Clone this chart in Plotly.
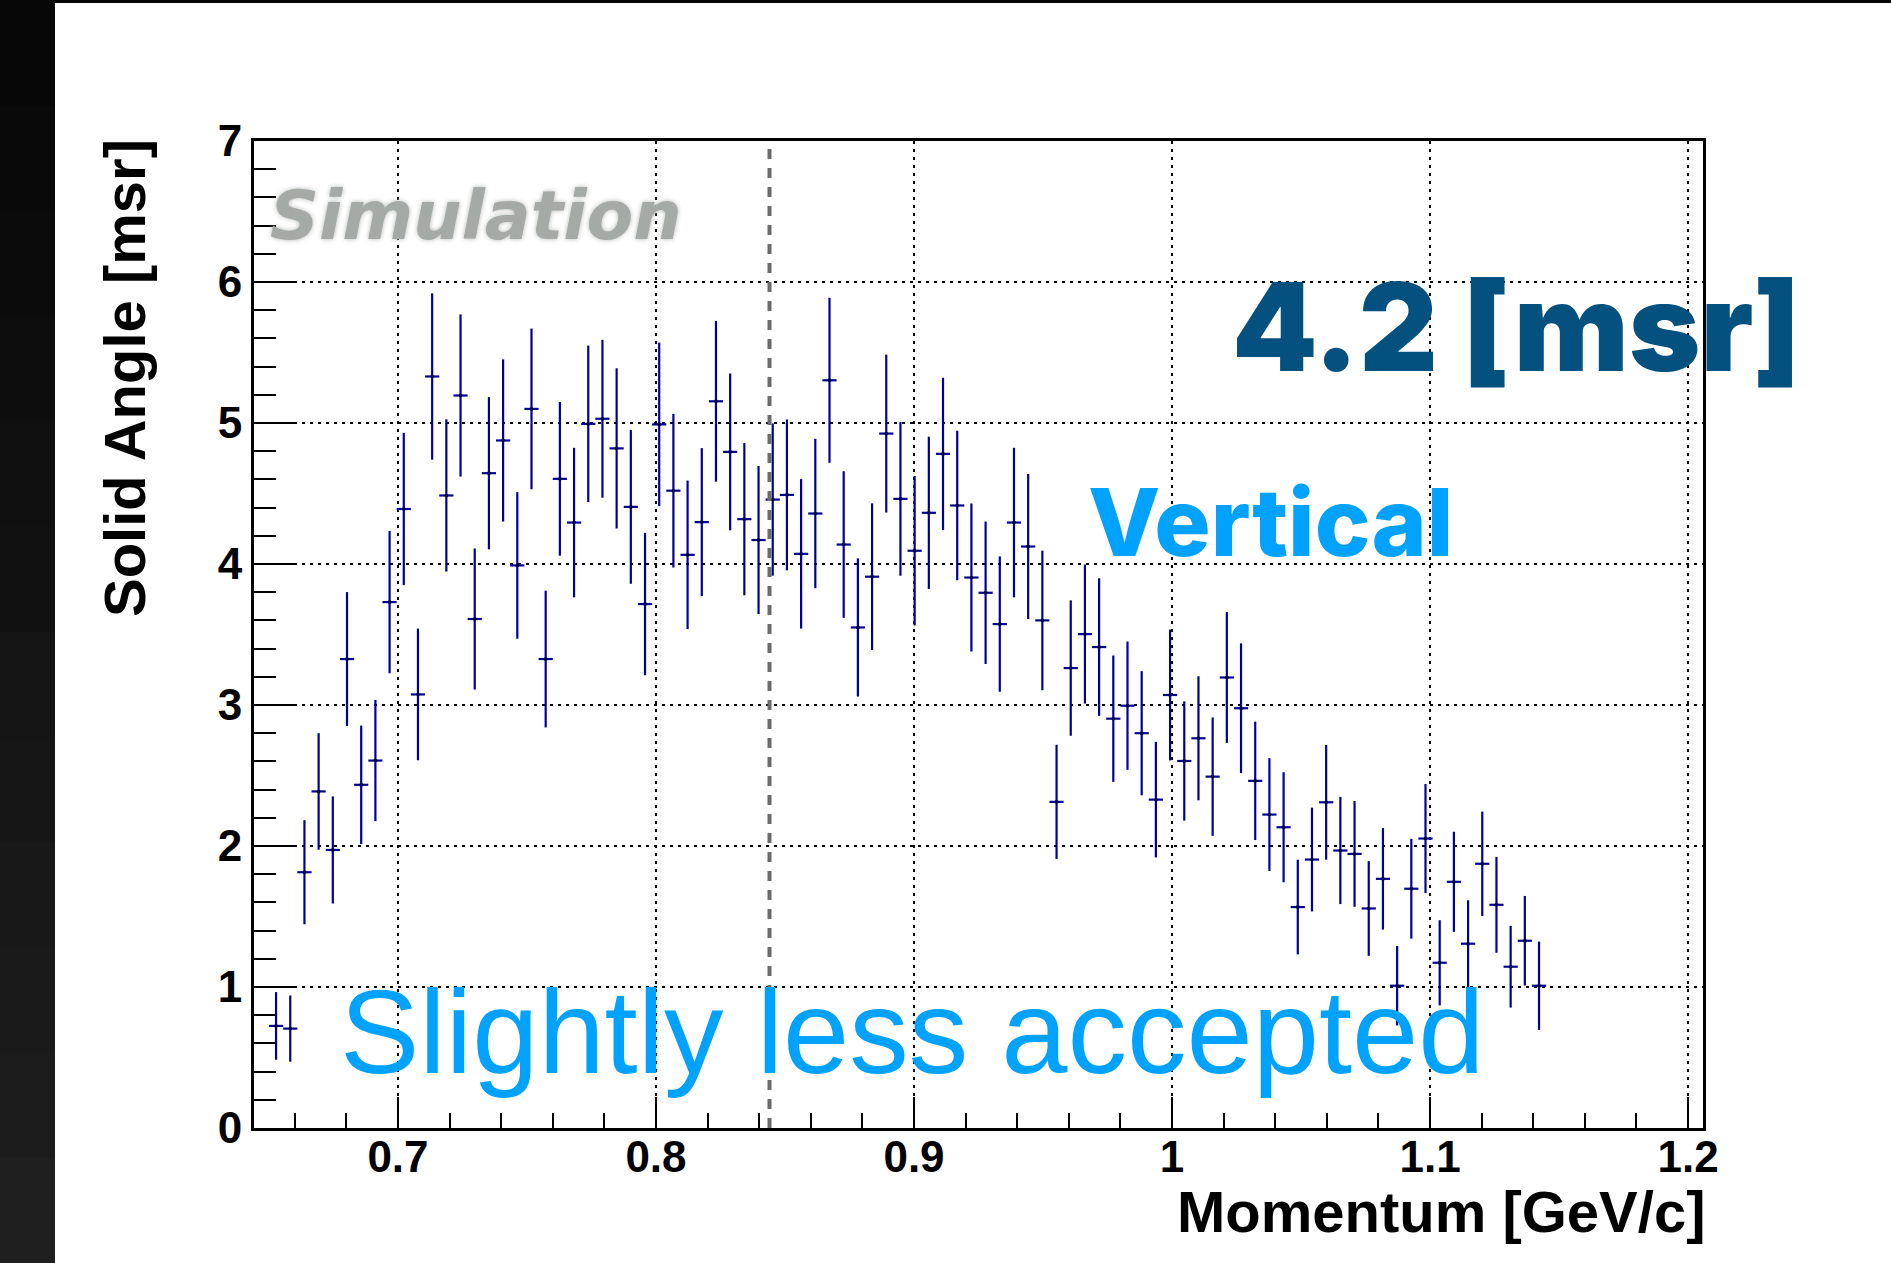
import plotly.graph_objects as go

# ---------------- data ----------------
momentum = [0.65275, 0.65825, 0.66375, 0.66925, 0.67475, 0.68025, 0.68575, 0.69125, 0.69675, 0.70225,
            0.70775, 0.71325, 0.71875, 0.72425, 0.72975, 0.73525, 0.74075, 0.74625, 0.75175, 0.75725,
            0.76275, 0.76825, 0.77375, 0.77925, 0.78475, 0.79025, 0.79575, 0.80125, 0.80675, 0.81225,
            0.81775, 0.82325, 0.82875, 0.83425, 0.83975, 0.84525, 0.85075, 0.85625, 0.86175, 0.86725,
            0.87275, 0.87825, 0.88375, 0.88925, 0.89475, 0.90025, 0.90575, 0.91125, 0.91675, 0.92225,
            0.92775, 0.93325, 0.93875, 0.94425, 0.94975, 0.95525, 0.96075, 0.96625, 0.97175, 0.97725,
            0.98275, 0.98825, 0.99375, 0.99925, 1.00475, 1.01025, 1.01575, 1.02125, 1.02675, 1.03225,
            1.03775, 1.04325, 1.04875, 1.05425, 1.05975, 1.06525, 1.07075, 1.07625, 1.08175, 1.08725,
            1.09275, 1.09825, 1.10375, 1.10925, 1.11475, 1.12025, 1.12575, 1.13125, 1.13675, 1.14225]

solid_angle = [0.724, 0.705, 1.814, 2.387, 1.972, 3.326, 2.434, 2.606, 3.73, 4.39,
               3.075, 5.33, 4.486, 5.195, 3.61, 4.644, 4.876, 3.99, 5.10, 3.326,
               4.604, 4.294, 4.994, 5.03, 4.82, 4.405, 3.716, 4.99, 4.52, 4.065,
               4.297, 5.154, 4.795, 4.318, 4.17, 4.457, 4.49, 4.072, 4.358, 5.303,
               4.138, 3.55, 3.91, 4.925, 4.462, 4.094, 4.363, 4.781, 4.415, 3.904,
               3.796, 3.574, 4.294, 4.124, 3.60, 2.313, 3.262, 3.503, 3.411, 2.903,
               2.995, 2.80, 2.329, 3.071, 2.603, 2.764, 2.492, 3.195, 2.977, 2.462,
               2.223, 2.133, 1.567, 1.904, 2.31, 1.968, 1.944, 1.557, 1.767, 1.009,
               1.697, 2.053, 1.172, 1.746, 1.307, 1.874, 1.583, 1.144, 1.328, 1.009]

solid_angle_err = [0.24, 0.235, 0.369, 0.413, 0.38, 0.475, 0.42, 0.43, 0.505, 0.54,
                   0.467, 0.59, 0.54, 0.575, 0.50, 0.54, 0.575, 0.52, 0.57, 0.485,
                   0.545, 0.53, 0.555, 0.56, 0.568, 0.545, 0.505, 0.58, 0.545, 0.527,
                   0.525, 0.57, 0.556, 0.54, 0.525, 0.54, 0.535, 0.53, 0.53, 0.585,
                   0.52, 0.49, 0.52, 0.56, 0.545, 0.53, 0.54, 0.54, 0.53, 0.525,
                   0.505, 0.48, 0.53, 0.515, 0.495, 0.405, 0.48, 0.493, 0.488, 0.448,
                   0.455, 0.44, 0.41, 0.464, 0.423, 0.44, 0.42, 0.464, 0.46, 0.42,
                   0.40, 0.39, 0.336, 0.368, 0.407, 0.38, 0.375, 0.336, 0.36, 0.282,
                   0.354, 0.387, 0.302, 0.355, 0.308, 0.37, 0.34, 0.29, 0.318, 0.313]

half_bin_width = [0.00275] * len(momentum)

x_tick_vals = [0.7, 0.8, 0.9, 1.0, 1.1, 1.2]
x_tick_text = ["0.7", "0.8", "0.9", "1", "1.1", "1.2"]
y_tick_vals = [0, 1, 2, 3, 4, 5, 6, 7]
y_tick_text = ["0", "1", "2", "3", "4", "5", "6", "7"]

cut_momentum = 0.844

# ---------------- layout geometry ----------------
W, H = 1891, 1263
L, R, T, B = 254, 1703, 141, 1128  # plot area in pixels
pw, ph = R - L, B - T


def px_x(px):
    return (px - L) / pw


def px_y(py):
    return (B - py) / ph


DATA_COLOR = "#000099"

fig = go.Figure()
fig.add_trace(go.Scatter(
    x=momentum, y=solid_angle,
    mode="markers",
    marker=dict(size=3, color="#000033", symbol="square"),
    error_y=dict(type="data", array=solid_angle_err, visible=True,
                 color=DATA_COLOR, thickness=2.2, width=0),
    error_x=dict(type="data", array=half_bin_width, visible=True,
                 color=DATA_COLOR, thickness=2.2, width=0),
    showlegend=False, cliponaxis=True,
))

tick_font = dict(family="Liberation Sans", size=44, color="black", weight="bold")

fig.update_layout(
    width=W, height=H,
    margin=dict(l=L, r=W - R, t=T, b=H - B, pad=0),
    paper_bgcolor="white", plot_bgcolor="white",
    xaxis=dict(
        range=[0.6442, 1.2058], tickmode="array", tickvals=x_tick_vals, ticktext=x_tick_text,
        ticks="inside", ticklen=31, tickwidth=2, tickcolor="black",
        minor=dict(dtick=0.02, tick0=0.7, ticks="inside", ticklen=15, tickwidth=2, tickcolor="black",
                   showgrid=False),
        showline=True, linecolor="black", linewidth=3, mirror=True,
        showgrid=True, gridcolor="black", gridwidth=2, griddash="3px,5px",
        zeroline=False, tickfont=tick_font, ticklabelstandoff=-12,
    ),
    yaxis=dict(
        range=[0, 7], tickmode="array", tickvals=y_tick_vals, ticktext=y_tick_text,
        ticks="inside", ticklen=43, tickwidth=2, tickcolor="black",
        minor=dict(dtick=0.2, tick0=0, ticks="inside", ticklen=22, tickwidth=2, tickcolor="black",
                   showgrid=False),
        showline=True, linecolor="black", linewidth=3, mirror=True,
        showgrid=True, gridcolor="black", gridwidth=2, griddash="3px,5px",
        zeroline=False, tickfont=tick_font, ticklabelstandoff=0,
    ),
)

shapes = []
# dark strip on the left (slight vertical gradient) and thin top strip
n_bands = 12
for i in range(n_bands):
    g = int(7 + (31 - 7) * i / (n_bands - 1))
    col = f"rgb({g},{g},{g})"
    y0 = i * H / n_bands
    y1 = (i + 1) * H / n_bands
    shapes.append(dict(type="rect", xref="paper", yref="paper",
                       x0=px_x(0), x1=px_x(55), y0=px_y(y1 + 1), y1=px_y(y0),
                       fillcolor=col, line=dict(width=0), layer="above"))
shapes.append(dict(type="rect", xref="paper", yref="paper",
                   x0=px_x(0), x1=px_x(W), y0=px_y(3), y1=px_y(0),
                   fillcolor="rgb(7,7,7)", line=dict(width=0), layer="above"))
# dashed cut line
shapes.append(dict(type="line", xref="x", yref="y", x0=cut_momentum, x1=cut_momentum, y0=0, y1=7,
                   line=dict(color="#6b6b6b", width=4, dash="10px,9px"), layer="above"))
fig.update_layout(shapes=shapes)

annotations = [
    # axis titles
    dict(text="Momentum [GeV/c]", xref="paper", yref="paper", x=px_x(1708), y=px_y(1211),
         xanchor="right", yanchor="middle", showarrow=False,
         font=dict(family="Liberation Sans", size=58, color="black", weight="bold")),
    dict(text="Solid Angle [msr]", xref="paper", yref="paper", x=px_x(124), y=px_y(137),
         xanchor="center", yanchor="top", textangle=-90, showarrow=False,
         font=dict(family="Liberation Sans", size=58, color="black", weight="bold")),
    # Simulation watermark
    dict(text="Simulation", xref="paper", yref="paper", x=px_x(268), y=px_y(215),
         xanchor="left", yanchor="middle", showarrow=False,
         font=dict(family="DejaVu Sans", size=68, color="#a5aaa6", weight="bold", style="italic",
                   shadow="0px 0px 5px #b4b8b4")),
    # big value
    dict(text="4.2 [msr]", xref="paper", yref="paper", x=px_x(1230), y=px_y(326),
         xanchor="left", yanchor="middle", showarrow=False,
         font=dict(family="Inter", size=122, color="#04507f", weight=900)),
    dict(text="Vertical", xref="paper", yref="paper", x=px_x(1086), y=px_y(522),
         xanchor="left", yanchor="middle", showarrow=False,
         font=dict(family="Inter", size=94, color="#00a2ff", weight=800)),
    dict(text="Slightly less accepted", xref="paper", yref="paper", x=px_x(338), y=px_y(1031),
         xanchor="left", yanchor="middle", showarrow=False,
         font=dict(family="Liberation Sans", size=119, color="#00a2ff")),
]
fig.update_layout(annotations=annotations)

fig.write_html("out.html")
